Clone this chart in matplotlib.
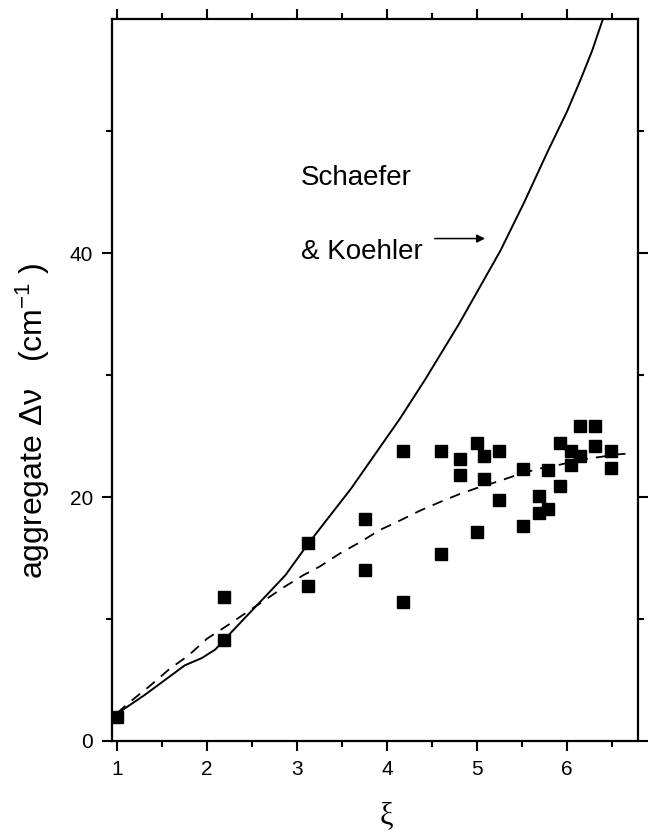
import matplotlib
matplotlib.use('Agg')
import matplotlib.pyplot as plt
from matplotlib.ticker import MultipleLocator, FixedLocator

plt.rcParams['font.family'] = ['Liberation Sans', 'DejaVu Sans']
plt.rcParams['mathtext.fontset'] = 'custom'
plt.rcParams['mathtext.rm'] = 'Liberation Sans'
plt.rcParams['mathtext.it'] = 'Liberation Sans:italic'

# measured data (squares)
xi_pts = [1.00, 2.19, 2.19, 3.12, 3.12, 3.76, 3.76, 4.18, 4.18, 4.60, 4.60,
          4.81, 4.81, 5.00, 5.00, 5.08, 5.08, 5.24, 5.24, 5.51, 5.51, 5.69,
          5.69, 5.79, 5.79, 5.92, 5.92, 6.05, 6.05, 6.14, 6.14, 6.31, 6.31,
          6.49, 6.49]
dnu_pts = [2.0, 11.8, 8.3, 16.2, 12.7, 18.2, 14.0, 23.8, 11.4, 23.8, 15.3,
           23.1, 21.8, 24.4, 17.1, 23.4, 21.5, 23.8, 19.8, 22.3, 17.6, 20.1,
           18.7, 22.2, 19.0, 24.4, 20.9, 23.8, 22.6, 25.8, 23.4, 25.8, 24.2,
           23.8, 22.4]

# Schaefer & Koehler curve (solid)
sk_xi = [1.00, 1.05, 1.31, 1.53, 1.75, 1.94, 2.09, 2.19, 2.42, 2.64, 2.87,
         3.12, 3.60, 4.14, 4.42, 4.80, 5.26, 5.52, 5.79, 6.00, 6.15, 6.28,
         6.40, 6.45]
sk_dnu = [2.1, 2.5, 3.8, 5.0, 6.2, 6.8, 7.5, 8.3, 10.1, 11.8, 13.6,
          16.15, 20.7, 26.4, 29.6, 34.2, 40.2, 44.1, 48.4, 51.6, 54.2, 56.6,
          59.2, 60.3]

# fit to the data (dashed)
fit_xi = [1.00, 1.14, 1.36, 1.58, 1.79, 2.00, 2.22, 2.43, 2.65, 2.85, 3.07,
          3.25, 3.48, 3.70, 3.92, 4.15, 4.37, 4.59, 4.79, 5.02, 5.22, 5.44,
          5.67, 5.89, 6.11, 6.33, 6.56, 6.74]
fit_dnu = [2.3, 3.2, 4.5, 5.9, 7.0, 8.4, 9.45, 10.5, 11.6, 12.6, 13.6,
           14.3, 15.4, 16.3, 17.3, 18.1, 18.9, 19.6, 20.2, 20.8, 21.25, 21.8,
           22.3, 22.6, 23.0, 23.25, 23.5, 23.6]

fig = plt.figure(figsize=(6.54, 8.35), dpi=100)
ax = fig.add_axes([0.1708, 0.1126, 0.8047, 0.8646])

ax.plot(sk_xi, sk_dnu, color='black', lw=1.4)
ax.plot(fit_xi, fit_dnu, color='black', lw=1.3, linestyle=(0, (6, 4.5)))
ax.plot(xi_pts, dnu_pts, 's', color='black', ms=8.5, mec='black')

ax.set_xlim(0.938, 6.79)
ax.set_ylim(0, 59.2)
ax.xaxis.set_major_locator(FixedLocator([1, 2, 3, 4, 5, 6]))
ax.xaxis.set_minor_locator(MultipleLocator(0.5))
ax.yaxis.set_major_locator(FixedLocator([0, 20, 40]))
ax.yaxis.set_minor_locator(FixedLocator([10, 30, 50]))

for s in ax.spines.values():
    s.set_linewidth(1.6)
ax.tick_params(which='both', direction='out', top=True, right=True,
               width=1.5, labelsize=15, pad=6)
ax.tick_params(which='major', length=7.5)
ax.tick_params(which='minor', length=4)

# label with arrow pointing at the curve
ax.annotate('', xy=(5.09, 41.2), xytext=(4.53, 41.2),
            arrowprops=dict(arrowstyle='-|>', color='black', lw=1.1,
                            mutation_scale=12, shrinkA=0, shrinkB=0))
ax.text(3.04, 45.6, 'Schaefer', fontsize=20, ha='left', va='baseline')
ax.text(3.04, 39.5, '& Koehler', fontsize=20, ha='left', va='baseline')

fig.text(33 / 654, 1 - 262 / 835, 'aggregate \u0394\u03bd   (cm$^{-1}$ )',
         rotation=90, fontsize=23, ha='center', va='top')
fig.text(386 / 654, 1 - 816 / 835, '\u03be', fontsize=22,
         family=['Liberation Serif', 'DejaVu Serif'], ha='center', va='center')

fig.savefig('out.png', dpi=100)
